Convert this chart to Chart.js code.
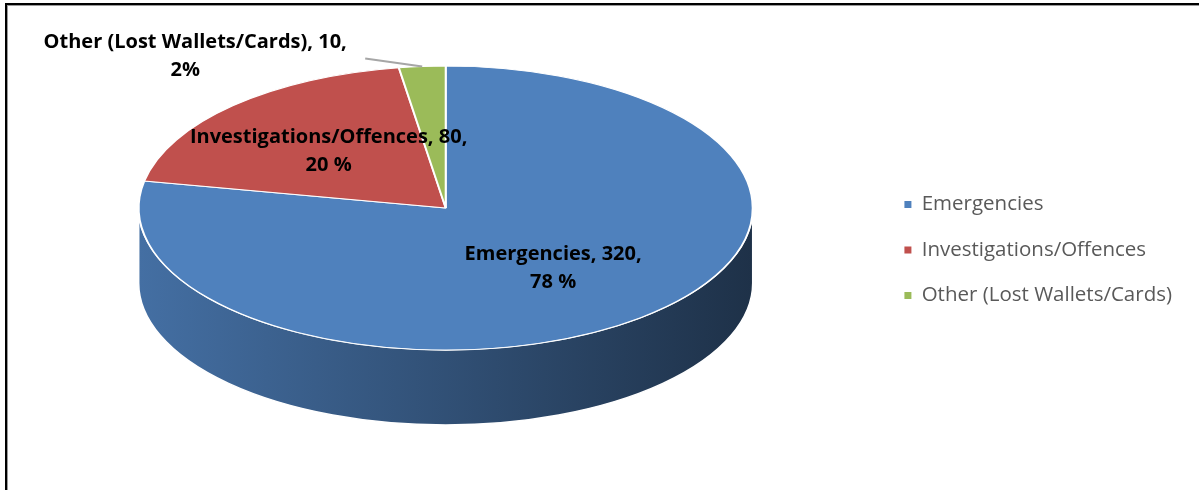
<!DOCTYPE html>
<html lang="en">
<head>
    <meta charset="UTF-8">
    <meta name="viewport" content="width=device-width, initial-scale=1.0">
    <title>Calls by type</title>
    <script src="https://cdn.jsdelivr.net/npm/chart.js"></script>
    <style>
        body {
            margin: 0;
            background: #ffffff;
        }

        .frame {
            position: relative;
            width: 1199px;
            height: 490px;
            overflow: hidden;
        }

        .frame::before {
            content: '';
            position: absolute;
            left: 5px;
            top: 3px;
            right: -10px;
            bottom: -10px;
            border-left: 2px solid #000;
            border-top: 2px solid #000;
            box-shadow: inset 1px 1px 0 #9a9a9a;
        }

        canvas {
            position: absolute;
            left: 0;
            top: 0;
        }
    </style>
</head>
<body>
    <div class="frame">
        <canvas id="grafico" width="1199" height="490"></canvas>
    </div>

    <script>
        const categories = ['Emergencies', 'Investigations/Offences', 'Other (Lost Wallets/Cards)'];
        const counts = [320, 80, 10];
        const percentSuffix = [' %', ' %', '%'];
        const colors = ['#4f81bd', '#c0504d', '#9bbb59'];

        const tilt = 0.4625;   // how flat the top of the pie looks
        const depth = 75;      // height of the pie wall
        const lift = -42;      // move the pie up from the middle of the chart area

        function shade(hex, f) {
            const n = parseInt(hex.slice(1), 16);
            const r = Math.round(((n >> 16) & 255) * f);
            const g = Math.round(((n >> 8) & 255) * f);
            const b = Math.round((n & 255) * f);
            return `rgb(${r}, ${g}, ${b})`;
        }

        function drawLabels(chart, cx, cy, r, ry) {
            const ctx = chart.ctx;
            const arcs = chart.getDatasetMeta(0).data;
            const total = counts.reduce((a, b) => a + b, 0);

            ctx.save();
            ctx.font = 'bold 20px "Open Sans"';
            ctx.fillStyle = '#000';
            ctx.textAlign = 'center';
            ctx.textBaseline = 'middle';

            arcs.forEach((arc, i) => {
                const mid = (arc.startAngle + arc.endAngle) / 2;
                const line1 = `${categories[i]}, ${counts[i]},`;
                const line2 = `${Math.round(counts[i] / total * 100)}${percentSuffix[i]}`;

                if (counts[i] / total < 0.05) {
                    // small slice: label outside with a leader line
                    const px = cx + r * Math.cos(mid);
                    const py = cy + ry * Math.sin(mid);
                    const ex = px - 57;
                    const ey = py - 8;
                    ctx.strokeStyle = '#a6a6a6';
                    ctx.lineWidth = 2;
                    ctx.beginPath();
                    ctx.moveTo(ex, ey);
                    ctx.lineTo(px, py);
                    ctx.stroke();
                    ctx.fillText(line1, ex - 170, ey - 16);
                    ctx.fillText(line2, ex - 180, ey + 12);
                } else {
                    const x = cx + r * 0.55 * Math.cos(mid);
                    const y = cy + ry * 0.55 * Math.sin(mid);
                    ctx.fillText(line1, x, y - 14);
                    ctx.fillText(line2, x, y + 14);
                }
            });
            ctx.restore();
        }

        const pie3d = {
            id: 'pie3d',
            beforeDatasetsDraw(chart) {
                const ctx = chart.ctx;
                const arcs = chart.getDatasetMeta(0).data;
                const cx = arcs[0].x;
                const cy = arcs[0].y + lift;
                const r = arcs[0].outerRadius;
                const ry = r * tilt;

                // wall: only the front half (angles 0..PI) can be seen
                arcs.forEach((arc, i) => {
                    for (const k of [0, 2 * Math.PI]) {
                        const s = Math.max(arc.startAngle, k);
                        const e = Math.min(arc.endAngle, k + Math.PI);
                        if (s >= e) continue;
                        ctx.save();
                        ctx.beginPath();
                        ctx.ellipse(cx, cy, r, ry, 0, s, e);
                        ctx.ellipse(cx, cy + depth, r, ry, 0, e, s, true);
                        ctx.closePath();
                        const grad = ctx.createLinearGradient(cx - r, 0, cx + r, 0);
                        grad.addColorStop(0, shade(colors[i], 0.86));
                        grad.addColorStop(1, shade(colors[i], 0.38));
                        ctx.fillStyle = grad;
                        ctx.fill();
                        ctx.strokeStyle = '#ffffff';
                        ctx.lineWidth = 1.5;
                        ctx.stroke();
                        ctx.restore();
                    }
                });

                // top of the pie: squash the library's arcs into an ellipse
                ctx.save();
                ctx.translate(cx, cy);
                ctx.scale(1, tilt);
                ctx.translate(-arcs[0].x, -arcs[0].y);
            },
            afterDatasetsDraw(chart) {
                chart.ctx.restore();
                const arcs = chart.getDatasetMeta(0).data;
                const r = arcs[0].outerRadius;
                drawLabels(chart, arcs[0].x, arcs[0].y + lift, r, r * tilt);
            }
        };

        const ctx = document.getElementById('grafico').getContext('2d');
        const grafico = new Chart(ctx, {
            type: 'pie',
            data: {
                labels: categories,
                datasets: [{
                    data: counts,
                    backgroundColor: colors,
                    borderColor: '#ffffff',
                    borderWidth: 2,
                    radius: 307,
                    clip: false
                }]
            },
            options: {
                responsive: false,
                animation: false,
                events: [],
                layout: {
                    padding: { left: 12, right: 17, top: 10, bottom: 0 }
                },
                plugins: {
                    tooltip: { enabled: false },
                    legend: {
                        position: 'right',
                        align: 'center',
                        labels: {
                            boxWidth: 7,
                            boxHeight: 7,
                            padding: 25,
                            color: '#595959',
                            font: { family: 'Open Sans', size: 20.5 },
                            generateLabels: (chart) =>
                                Chart.overrides.doughnut.plugins.legend.labels.generateLabels(chart)
                                    .map(item => ({ ...item, lineWidth: 0 }))
                        }
                    }
                }
            },
            plugins: [pie3d]
        });
    </script>
</body>
</html>
